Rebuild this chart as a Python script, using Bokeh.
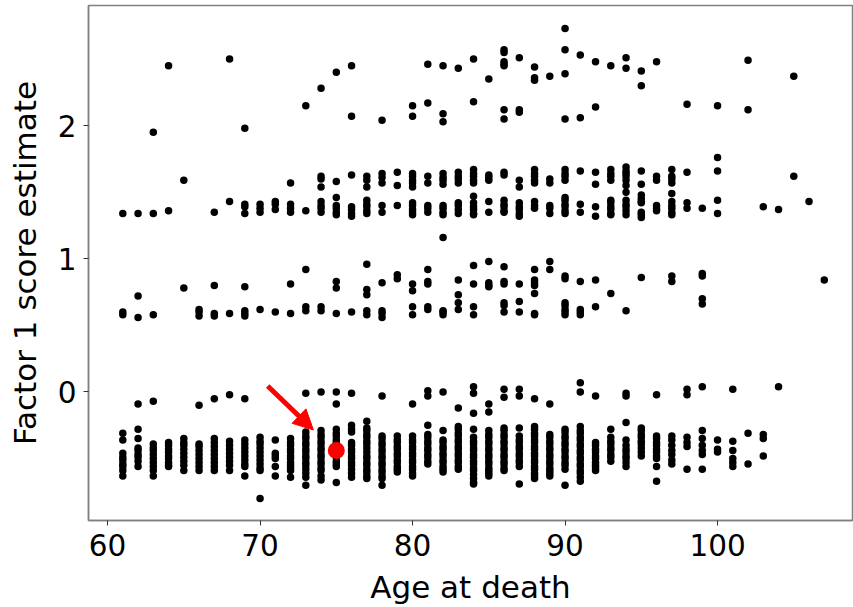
from bokeh.plotting import figure
from bokeh.models import Range1d, Arrow, NormalHead, ColumnDataSource
from bokeh.embed import file_html
from bokeh.resources import INLINE

# ---- data: age -> factor score estimates ----
low_band = {
    61: [-0.31, -0.36, -0.46, -0.49, -0.51, -0.54, -0.56, -0.59, -0.63],
    62: [-0.28, -0.35, -0.42, -0.44, -0.47, -0.49, -0.52, -0.56],
    63: [-0.39, -0.42, -0.44, -0.47, -0.50, -0.53, -0.56, -0.59, -0.63],
    64: [-0.38, -0.40, -0.43, -0.45, -0.48, -0.50, -0.53, -0.55, -0.56],
    65: [-0.35, -0.38, -0.40, -0.43, -0.46, -0.49, -0.52, -0.55, -0.59],
    66: [-0.39, -0.41, -0.44, -0.47, -0.50, -0.53, -0.56, -0.59],
    67: [-0.35, -0.38, -0.41, -0.44, -0.47, -0.50, -0.53, -0.56, -0.59],
    68: [-0.37, -0.40, -0.43, -0.46, -0.49, -0.52, -0.55, -0.59],
    69: [-0.36, -0.39, -0.42, -0.45, -0.48, -0.51, -0.54, -0.56, -0.63],
    70: [-0.34, -0.37, -0.39, -0.42, -0.45, -0.48, -0.51, -0.54, -0.57, -0.59, -0.80],
    71: [-0.36, -0.46, -0.48, -0.50, -0.56, -0.63],
    72: [-0.35, -0.38, -0.40, -0.43, -0.45, -0.48, -0.50, -0.53, -0.55, -0.57, -0.59, -0.64],
    73: [-0.30, -0.33, -0.35, -0.38, -0.40, -0.43, -0.45, -0.48, -0.50, -0.53, -0.55, -0.58, -0.61, -0.64, -0.70],
    74: [-0.29, -0.32, -0.34, -0.37, -0.39, -0.42, -0.44, -0.47, -0.49, -0.52, -0.54, -0.57, -0.59, -0.63, -0.66],
    75: [-0.28, -0.31, -0.33, -0.36, -0.38, -0.41, -0.44, -0.47, -0.49, -0.52, -0.54, -0.56, -0.68],
    76: [-0.25, -0.28, -0.30, -0.38, -0.40, -0.43, -0.45, -0.48, -0.50, -0.53, -0.55, -0.58, -0.61, -0.64],
    77: [-0.22, -0.27, -0.29, -0.32, -0.34, -0.37, -0.39, -0.42, -0.45, -0.48, -0.50, -0.53, -0.55, -0.58, -0.60, -0.63, -0.65],
    78: [-0.33, -0.35, -0.38, -0.40, -0.43, -0.45, -0.48, -0.50, -0.53, -0.55, -0.58, -0.60, -0.63, -0.65, -0.70],
    79: [-0.33, -0.36, -0.38, -0.41, -0.43, -0.46, -0.48, -0.51, -0.53, -0.56, -0.58, -0.60],
    80: [-0.33, -0.36, -0.38, -0.41, -0.43, -0.46, -0.48, -0.51, -0.53, -0.56, -0.58, -0.61, -0.63],
    81: [-0.25, -0.32, -0.34, -0.37, -0.39, -0.42, -0.44, -0.47, -0.49, -0.52, -0.54],
    82: [-0.29, -0.36, -0.38, -0.41, -0.43, -0.46, -0.48, -0.51, -0.53, -0.56, -0.58, -0.60],
    83: [-0.26, -0.28, -0.31, -0.33, -0.36, -0.38, -0.41, -0.43, -0.46, -0.48, -0.51, -0.53, -0.56, -0.58],
    84: [-0.28, -0.34, -0.37, -0.39, -0.42, -0.44, -0.47, -0.49, -0.52, -0.54, -0.57, -0.59, -0.62, -0.65, -0.68, -0.69],
    85: [-0.29, -0.32, -0.34, -0.37, -0.39, -0.42, -0.44, -0.47, -0.49, -0.52, -0.54, -0.57, -0.59, -0.61, -0.63],
    86: [-0.27, -0.29, -0.32, -0.34, -0.37, -0.39, -0.42, -0.44, -0.47, -0.49, -0.52, -0.54, -0.57, -0.59],
    87: [-0.27, -0.33, -0.36, -0.38, -0.41, -0.43, -0.46, -0.48, -0.51, -0.53, -0.56, -0.69],
    88: [-0.26, -0.28, -0.31, -0.33, -0.36, -0.38, -0.41, -0.43, -0.46, -0.48, -0.51, -0.53, -0.56, -0.58, -0.61, -0.63, -0.65],
    89: [-0.32, -0.34, -0.37, -0.39, -0.42, -0.44, -0.47, -0.49, -0.52, -0.54, -0.57, -0.59, -0.61, -0.63],
    90: [-0.28, -0.30, -0.33, -0.35, -0.38, -0.40, -0.43, -0.45, -0.48, -0.50, -0.53, -0.55, -0.58, -0.70],
    91: [-0.26, -0.29, -0.31, -0.34, -0.36, -0.39, -0.41, -0.44, -0.46, -0.49, -0.51, -0.54, -0.56, -0.59, -0.61, -0.64, -0.67],
    92: [-0.38, -0.40, -0.43, -0.45, -0.48, -0.50, -0.53, -0.55, -0.57, -0.59],
    93: [-0.28, -0.34, -0.37, -0.39, -0.42, -0.44, -0.47, -0.49, -0.52],
    94: [-0.23, -0.36, -0.40, -0.43, -0.45, -0.48, -0.50, -0.53, -0.56],
    95: [-0.27, -0.29, -0.32, -0.34, -0.37, -0.39, -0.42, -0.45, -0.48],
    96: [-0.33, -0.35, -0.38, -0.40, -0.43, -0.45, -0.48, -0.50, -0.56, -0.67],
    97: [-0.33, -0.36, -0.40, -0.44, -0.47, -0.51, -0.54],
    98: [-0.34, -0.38, -0.41, -0.58],
    99: [-0.29, -0.35, -0.40, -0.44, -0.47, -0.58],
    100: [-0.36, -0.43, -0.45],
    101: [-0.37, -0.44, -0.50, -0.53, -0.56],
    102: [-0.31, -0.54],
    103: [-0.32, -0.35, -0.48],
}

zero_band = {
    62: [-0.09], 63: [-0.07], 66: [-0.10], 67: [-0.05], 68: [-0.02], 69: [-0.05],
    73: [-0.01], 74: [0.00], 75: [0.00, -0.09], 76: [-0.01], 78: [-0.03],
    80: [-0.09], 81: [0.01, -0.03], 82: [0.00], 83: [-0.12],
    84: [0.04, -0.01, -0.16], 85: [-0.09, -0.15], 86: [0.02, -0.04],
    87: [0.02, -0.03], 88: [-0.05], 89: [-0.09], 91: [0.07, 0.00],
    92: [-0.03], 94: [-0.01, -0.03], 96: [-0.02], 98: [0.02, -0.02],
    99: [0.04], 101: [0.02], 104: [0.04],
}

mid_band = {
    61: [0.60, 0.58], 62: [0.72, 0.56], 63: [0.58], 65: [0.78],
    66: [0.62, 0.60, 0.57], 67: [0.80, 0.59, 0.57], 68: [0.59],
    69: [0.79, 0.61, 0.59, 0.57], 70: [0.62], 71: [0.60], 72: [0.81, 0.59],
    73: [0.92, 0.64, 0.61], 74: [0.64, 0.61], 75: [0.83, 0.78, 0.59],
    76: [0.60], 77: [0.96, 0.77, 0.73, 0.61, 0.58], 78: [0.82, 0.61, 0.59, 0.56],
    79: [0.88, 0.85], 80: [0.81, 0.76, 0.64, 0.58],
    81: [0.92, 0.83, 0.81, 0.64, 0.62], 82: [0.61, 0.60, 0.58],
    83: [0.84, 0.73, 0.67, 0.62], 84: [0.95, 0.81, 0.64, 0.58],
    85: [0.98, 0.82, 0.80, 0.79], 86: [0.94, 0.83, 0.81, 0.67, 0.65, 0.60],
    87: [0.81, 0.68, 0.60], 88: [0.92, 0.84, 0.82, 0.80, 0.74, 0.59, 0.58],
    89: [0.98, 0.92], 90: [0.87, 0.85, 0.67, 0.65, 0.62, 0.60, 0.58],
    91: [0.83, 0.62, 0.60, 0.58], 92: [0.84, 0.64], 93: [0.74], 94: [0.61],
    95: [0.86], 97: [0.87, 0.83], 99: [0.89, 0.87, 0.70, 0.66], 107: [0.84],
}

upper_band = {
    61: [1.34], 62: [1.34], 63: [1.34], 64: [1.36], 65: [1.59], 67: [1.35],
    68: [1.43], 69: [1.41, 1.39, 1.34], 70: [1.41, 1.38, 1.35],
    71: [1.43, 1.41, 1.37], 72: [1.57, 1.41, 1.38, 1.35], 73: [1.36],
    74: [1.62, 1.60, 1.54, 1.43, 1.40, 1.38, 1.35],
    75: [1.58, 1.46, 1.40, 1.38, 1.35, 1.33],
    76: [1.63, 1.39, 1.37, 1.34, 1.32],
    77: [1.62, 1.59, 1.54, 1.44, 1.41, 1.39, 1.36, 1.34],
    78: [1.64, 1.61, 1.57, 1.40, 1.35], 79: [1.65, 1.55, 1.40],
    80: [1.64, 1.62, 1.59, 1.57, 1.54, 1.42, 1.40, 1.37, 1.35, 1.33],
    81: [1.62, 1.57, 1.40, 1.38, 1.35],
    82: [1.64, 1.61, 1.59, 1.56, 1.40, 1.38, 1.35, 1.33, 1.16],
    83: [1.65, 1.62, 1.60, 1.57, 1.42, 1.40, 1.37, 1.34],
    84: [1.67, 1.64, 1.62, 1.59, 1.57, 1.47, 1.42, 1.39, 1.37, 1.34, 1.33],
    85: [1.63, 1.61, 1.59, 1.43, 1.35],
    86: [1.65, 1.63, 1.44, 1.41, 1.39, 1.36, 1.35],
    87: [1.59, 1.54, 1.42, 1.39, 1.37, 1.34, 1.32],
    88: [1.67, 1.64, 1.62, 1.59, 1.57, 1.43, 1.40, 1.38],
    89: [1.60, 1.57, 1.40, 1.38, 1.34],
    90: [1.67, 1.64, 1.62, 1.59, 1.46, 1.44, 1.41, 1.39, 1.36, 1.34],
    91: [1.66, 1.41, 1.35], 92: [1.65, 1.56, 1.39, 1.32],
    93: [1.67, 1.64, 1.62, 1.59, 1.44, 1.42, 1.39, 1.37, 1.34, 1.33],
    94: [1.69, 1.66, 1.64, 1.62, 1.59, 1.55, 1.50, 1.44, 1.41, 1.39, 1.36, 1.33],
    95: [1.66, 1.56, 1.48, 1.45, 1.43, 1.42, 1.35, 1.33, 1.31],
    96: [1.62, 1.59, 1.40, 1.38, 1.36],
    97: [1.67, 1.62, 1.60, 1.57, 1.49, 1.43, 1.40, 1.38, 1.35, 1.33],
    98: [1.65, 1.42, 1.38], 99: [1.38], 100: [1.76, 1.66, 1.44, 1.34],
    103: [1.39], 104: [1.37], 105: [1.62], 106: [1.43],
}

top_band = {
    63: [1.95], 64: [2.45], 68: [2.50], 69: [1.98], 73: [2.15], 74: [2.28],
    75: [2.40], 76: [2.45, 2.07], 78: [2.04], 80: [2.15, 2.07],
    81: [2.46, 2.17], 82: [2.45, 2.09, 2.03], 83: [2.43], 84: [2.50, 2.18],
    85: [2.35], 86: [2.57, 2.55, 2.48, 2.46, 2.45, 2.12, 2.05],
    87: [2.51, 2.12, 2.10], 88: [2.44, 2.36, 2.34], 89: [2.37],
    90: [2.73, 2.57, 2.39, 2.05], 91: [2.53, 2.06], 92: [2.48, 2.14],
    93: [2.45], 94: [2.51, 2.43], 95: [2.41, 2.30], 96: [2.48], 98: [2.16],
    100: [2.15], 102: [2.49, 2.12], 105: [2.37],
}

highlight_age = [75]
highlight_score = [-0.44]

arrow_from = (70.5, 0.045)
arrow_to = (73.5, -0.285)

x_ticks = [60, 70, 80, 90, 100]
y_ticks = [0, 1, 2]

# ---- flatten ----
xs, ys = [], []
for band in (low_band, zero_band, mid_band, upper_band, top_band):
    for age, vals in band.items():
        for v in vals:
            xs.append(age)
            ys.append(v)

FONT = "DejaVu Sans"
GREY = "#808080"

p = figure(width=853, height=607, x_range=Range1d(58.75, 108.85),
           y_range=Range1d(-0.965, 2.902), output_backend="svg",
           toolbar_location=None, min_border_left=88, min_border_right=1,
           min_border_top=5, min_border_bottom=87)
p.background_fill_color = "white"
p.border_fill_color = "white"
p.grid.visible = False
p.outline_line_color = GREY
p.outline_line_width = 1.5

src = ColumnDataSource(dict(x=xs, y=ys))
p.scatter("x", "y", source=src, marker="circle", size=7.5, fill_color="black",
          line_color="black", line_width=0)

p.scatter(highlight_age, highlight_score, marker="circle", size=17,
          fill_color="red", line_color="red", line_width=0)

p.add_layout(Arrow(end=NormalHead(size=20, fill_color="red", line_color="red"),
                   x_start=arrow_from[0], y_start=arrow_from[1],
                   x_end=arrow_to[0], y_end=arrow_to[1],
                   line_color="red", line_width=5))

for ax in (p.xaxis[0], p.yaxis[0]):
    ax.axis_line_color = GREY
    ax.axis_line_width = 1.5
    ax.major_tick_line_color = "#333333"
    ax.major_tick_out = 5
    ax.major_tick_in = 0
    ax.minor_tick_line_color = None
    ax.major_label_text_font = FONT
    ax.major_label_text_font_size = "29.5px"
    ax.major_label_text_color = "black"
    ax.axis_label_text_font = FONT
    ax.axis_label_text_font_size = "31px"
    ax.axis_label_text_font_style = "normal"
    ax.axis_label_text_color = "black"

p.xaxis.ticker = x_ticks
p.yaxis.ticker = y_ticks
p.xaxis.axis_label = "Age at death"
p.yaxis.axis_label = "Factor 1 score estimate"
p.xaxis.major_label_standoff = 8
p.yaxis.major_label_standoff = 7
p.xaxis.axis_label_standoff = 10
p.yaxis.axis_label_standoff = 12

open("out.html", "w").write(file_html(p, INLINE))
